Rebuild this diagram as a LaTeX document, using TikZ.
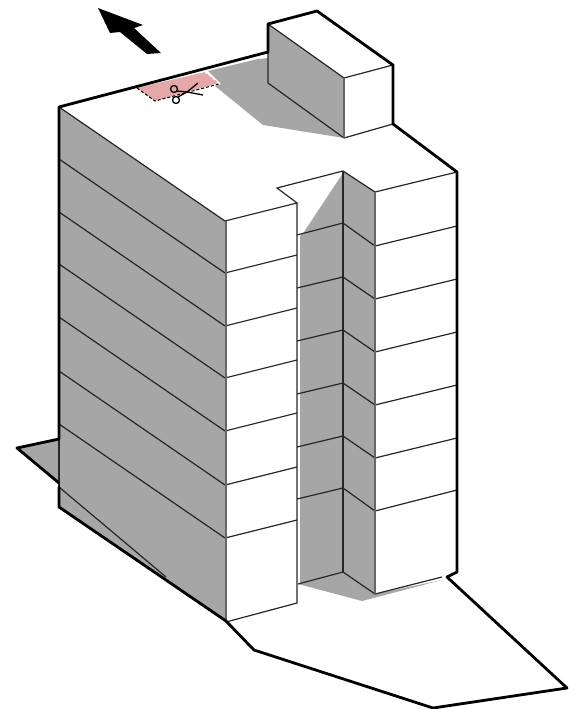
\documentclass[tikz,border=0pt]{standalone}
\usepackage{xcolor}
\usepackage{tikz}
\definecolor{wallgray}{HTML}{A6A6A6}
\definecolor{cutpink}{HTML}{E5A8A8}

\begin{document}
\begin{tikzpicture}[
  x=1pt, y=-1pt,
  wallshade/.style={fill=wallgray, draw=none},
  thinline/.style={draw=black!85, line width=1.2pt},
  cornerline/.style={draw=black!60, line width=1.4pt},
  outline/.style={draw=black, line width=2.8pt, line join=round, line cap=round},
  blade/.style={draw=black, line width=1.3pt}
]
\useasboundingbox (0,0) rectangle (568,709);

% ===== SHADOWS AND FACES =====
\fill[wallshade] (17,448) -- (59,439) -- (59,483) -- cycle;
\fill[wallshade] (59,107) -- (225,221) -- (225,621) -- (59,507) -- cycle;
\fill[wallshade] (208,71) -- (258,59) -- (268,58) -- (344,138) -- (263,125) -- (215,86) -- (221,84) -- cycle;
\fill[wallshade] (268,24) -- (344,78) -- (344,138) -- (268,83) -- cycle;
\fill[wallshade] (300,236) -- (304,232) -- (343,173) -- (343,572) -- (300,583) -- cycle;
\fill[wallshade] (343,171) -- (375,192) -- (375,594) -- (343,572) -- cycle;
\fill[wallshade] (298,584) -- (343,572) -- (375,594) -- (442,580) -- (362,601) -- cycle;

% ===== CUT PATCH =====
\fill[cutpink] (137,88) -- (205,72) -- (219,83) -- (155,101) -- cycle;
\draw[black, line width=1pt, dash pattern=on 3pt off 2pt] (137,88) -- (155,101) -- (219,84);
\draw[white, line width=1pt, dash pattern=on 3pt off 2pt] (205,72) -- (219,83);

% ===== FLOORS =====
\foreach \ya/\yb in {273/255,326/308,378/360,431/413,485/467,538/520}{
  \draw[thinline] (225,\ya) -- (297,\yb);
  \pgfmathsetmacro{\yc}{\ya-114}
  \draw[thinline] (59,\yc) -- (225,\ya);
}
\foreach \ya/\yb/\yc/\yd in {235/223/246/226,288/277/299/279,341/330/352/332,394/383/405/385,447/436/458/438,499/488/511/490}{
  \draw[thinline] (297,\ya) -- (343,\yb) -- (375,\yc) -- (457,\yd);
}

% ===== BUILDING EDGES =====
\draw[thinline] (59,107) -- (225,221) -- (297,203) -- (277,188) -- (343,171) -- (375,192) -- (457,172);
\draw[thinline] (59,487) -- (166,577);
\draw[thinline] (59,439) -- (59,487);
\draw[thinline] (226,622) -- (297,603) -- (297,203);
\draw[thinline] (298,584) -- (343,572) -- (375,594) -- (442,577);
\draw[thinline] (343,171) -- (343,572);
\draw[cornerline] (226,221) -- (226,622);
\draw[cornerline] (375,192) -- (375,594);

% ===== TOWER =====
\draw[thinline] (268,24) -- (344,78) -- (393,65);
\draw[thinline] (268,52) -- (268,83) -- (344,138) -- (393,124);
\draw[cornerline] (344,78) -- (344,138);

% ===== OUTLINE =====
\draw[outline] (59,439) -- (59,107) -- (268,52) -- (268,24) -- (317,11) -- (393,65) -- (393,124)
  -- (457,172) -- (457,572) -- (447,577) -- (567,688) -- (433,708) -- (254,650) -- (226,621)
  -- (59,507) -- (59,487);
\draw[outline] (59,439) -- (17,448) -- (59,483);

% ===== NORTH ARROW =====
\fill[black] (98,8) -- (143,25) -- (134,28) -- (161,53) -- (147,54) -- (120,32) -- (110,33) -- cycle;

% ===== SCISSORS =====
\draw[blade] (174,89) circle (3.5pt);
\draw[blade] (176,100) circle (3.5pt);
\draw[blade] (177,91) -- (187,92) -- (203,95);
\draw[blade] (178,97) -- (187,92) -- (198,83);
\end{tikzpicture}
\end{document}
